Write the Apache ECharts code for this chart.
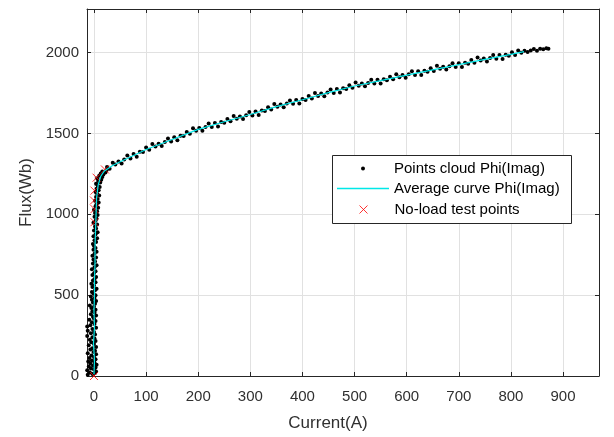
<!DOCTYPE html>
<html>
<head>
<meta charset="utf-8">
<script src="https://cdn.jsdelivr.net/npm/echarts/dist/echarts.min.js"></script>
<style>
html, body { margin: 0; padding: 0; background: #fff; }
#chart { width: 614px; height: 437px; }
</style>
</head>
<body>
<div id="chart"></div>
<script>
// point cloud Phi(Imag), [current (A), flux (Wb)] - steep part
var cloudLow = [
  [-12,8],[-3,12],[2,18],[-8,22],[4,28],[-13,35],[0,40],[-6,46],[3,52],[-10,58],[-2,64],[5,70],
  [-7,78],[1,84],[-11,90],[-4,96],[3,104],[-9,112],[0,118],[-5,126],[4,134],[-12,140],[-1,148],
  [2,156],[-7,164],[-3,172],[4,180],[-10,190],[0,198],[-5,208],[3,216],[-8,224],[1,232],[-3,240],
  [-13,248],[2,256],[-6,264],[0,272],[-12,280],[-3,290],[4,298],[-13,306],[-7,314],[1,322],[-4,332],
  [3,340],[-9,348],[0,356],[-2,366],[4,374],[-6,382],[1,392],[-3,400],[3,410],[-5,420],[0,428],
  [-8,436],[2,446],[-2,454],[4,464],[-4,472],[1,482],[-6,492],[3,500],[-1,510],[-4,520],[2,530],
  [5,540],[-3,550],[0,560],[-5,570],[3,580],[-2,590],[1,600],[4,612],[-3,624],[0,636],[3,648],
  [-4,660],[1,672],[5,684],[-2,696],[2,708],[-1,720],[4,732],[-3,744],[1,756],[5,768],[-1,780],
  [3,792],[0,804],[-2,816],[4,828],[1,840],[6,852],[-1,864],[3,876],[7,888],[0,900],[4,912],
  [2,924],[6,936],[-1,948],[3,960],[5,972],[1,984],[7,996],[2,1008],[6,1018],[0,1028],[8,1040],
  [3,1050],[5,1062],[9,1072],[2,1084],[7,1094],[4,1106],[10,1116],[6,1126],[3,1138],[9,1148],
  [5,1158],[11,1168],[7,1178],[4,1188],[12,1196],[8,1206],[14,1214],[6,1222],[16,1230],[10,1238],
  [18,1246],[13,1252],[22,1258],[16,1264],[24,1272]
];
// point cloud Phi(Imag) - saturated part
var cloudHigh = [
  [25,1292],[30,1282],[36,1318],[41,1307],[47,1326],[53,1314],[58,1339],[64,1363],[70,1345],
  [76,1372],[82,1355],[88,1386],[94,1385],[100,1412],[106,1399],[112,1435],[118,1419],[124,1436],
  [130,1422],[136,1447],[142,1469],[148,1450],[154,1476],[160,1457],[166,1486],[172,1484],
  [178,1509],[184,1497],[190,1532],[196,1517],[202,1533],[208,1517],[214,1540],[220,1561],
  [226,1539],[232,1564],[238,1543],[244,1570],[250,1566],[256,1589],[262,1575],[268,1608],
  [274,1591],[280,1605],[286,1589],[292,1612],[298,1632],[304,1611],[310,1636],[316,1614],
  [322,1642],[328,1638],[334,1662],[340,1647],[346,1681],[352,1664],[358,1678],[364,1662],
  [370,1684],[376,1704],[382,1683],[388,1707],[394,1685],[400,1712],[406,1707],[412,1731],
  [418,1716],[424,1749],[430,1731],[436,1746],[442,1730],[448,1752],[454,1772],[460,1750],
  [466,1774],[472,1752],[478,1779],[484,1774],[490,1797],[496,1782],[502,1814],[508,1795],
  [514,1808],[520,1791],[526,1812],[532,1831],[538,1808],[544,1831],[550,1808],[556,1834],
  [562,1828],[568,1850],[574,1834],[580,1866],[586,1847],[592,1861],[598,1844],[604,1865],
  [610,1884],[616,1861],[622,1884],[628,1861],[634,1887],[640,1881],[646,1902],[652,1886],
  [658,1918],[664,1899],[670,1912],[676,1895],[682,1915],[688,1934],[694,1911],[700,1934],
  [706,1911],[712,1937],[718,1931],[724,1953],[730,1937],[736,1969],[742,1950],[748,1963],
  [754,1945],[760,1966],[766,1985],[772,1961],[778,1984],[784,1960],[790,1986],[796,1980],
  [802,2001],[808,1985],[814,2012],[820,1999],[826,2011],[832,2003],[838,2013],[844,2022],
  [850,2011],[856,2024],[862,2020],[868,2027],[872,2024]
];
// average curve Phi(Imag)
var curveI = [0, 1, -1, 1, 0, 1, 1, 2, 2, 3, 4, 5, 8, 13, 20, 35, 50, 75, 100, 150, 200, 250,
  300, 350, 400, 450, 500, 550, 600, 650, 700, 750, 800, 825];
var curvePhi = [10, 100, 200, 300, 400, 500, 600, 700, 800, 900, 1000, 1100, 1180, 1235, 1268, 1300,
  1325, 1362, 1400, 1462, 1525, 1572, 1617, 1665, 1708, 1752, 1793, 1826, 1860, 1893, 1925, 1958, 1988, 2005];
// no-load test points
var noLoadI = [0, 1, 1, 0, 1, 5, 21];
var noLoadPhi = [0, 951, 1032, 1085, 1146, 1226, 1277];

var xMin = -13.4, xMax = 969;
var yMin = 0, yMax = 2269;

function zip(a, b) {
  var out = [];
  for (var i = 0; i < a.length; i++) out.push([a[i], b[i]]);
  return out;
}

var axisColor = '#262626';
var textColor = '#303030';
var gridColor = '#e1e1e1';
var cyan = '#00e8e8';
var crossPath = 'path://M0,0L10,10M0,10L10,0';
var linePath = 'path://M0,0L52,0L52,1.3L0,1.3Z';
var plain = function (v) { return String(v); };

function frameAxis(pos, min, max, n) {
  return {
    type: 'value', min: min, max: max, splitNumber: n, position: pos,
    axisLine: { show: true, onZero: false, lineStyle: { color: axisColor, width: 1 } },
    axisTick: { show: true, inside: true, length: 4, lineStyle: { color: axisColor } },
    axisLabel: { show: false },
    splitLine: { show: false }
  };
}

var myChart = echarts.init(document.getElementById('chart'));
myChart.setOption({
  animation: false,
  textStyle: { fontFamily: 'Liberation Sans, Arial, sans-serif' },
  grid: { left: 87, top: 9, width: 512, height: 372 },
  xAxis: [
    {
      type: 'value', min: xMin, max: xMax, splitNumber: 10,
      name: 'Current(A)', nameLocation: 'middle', nameGap: 39,
      nameTextStyle: { color: textColor, fontSize: 17, padding: [0, 30, 0, 0] },
      axisLine: { show: true, onZero: false, lineStyle: { color: axisColor, width: 1 } },
      axisTick: { show: true, inside: true, length: 4, lineStyle: { color: axisColor } },
      axisLabel: { color: textColor, fontSize: 15, margin: 13, showMinLabel: false, showMaxLabel: false, formatter: plain },
      splitLine: { show: true, lineStyle: { color: gridColor, width: 1 } }
    },
    frameAxis('top', xMin, xMax, 10)
  ],
  yAxis: [
    {
      type: 'value', min: yMin, max: yMax, splitNumber: 5,
      name: 'Flux(Wb)', nameLocation: 'middle', nameGap: 46,
      nameTextStyle: { color: textColor, fontSize: 17 },
      axisLine: { show: true, onZero: false, lineStyle: { color: axisColor, width: 1 } },
      axisTick: { show: true, inside: true, length: 4, lineStyle: { color: axisColor } },
      axisLabel: { color: textColor, fontSize: 15, margin: 8, showMaxLabel: false, formatter: plain },
      splitLine: { show: true, lineStyle: { color: gridColor, width: 1 } }
    },
    frameAxis('right', yMin, yMax, 5)
  ],
  graphic: [
    {
      type: 'rect', z: 10,
      shape: { x: 332.5, y: 155.5, width: 239, height: 68 },
      style: { fill: '#ffffff', stroke: axisColor, lineWidth: 1 }
    }
  ],
  legend: [
    {
      data: [{ name: 'Points cloud Phi(Imag)', icon: 'circle' }],
      left: 361, top: 161, padding: 0, z: 11,
      itemWidth: 4, itemHeight: 4,
      textStyle: { color: '#000', fontSize: 15, padding: [0, 0, 0, 24] }
    },
    {
      data: [{
        name: 'Average curve Phi(Imag)', icon: linePath,
        itemStyle: { color: cyan, borderWidth: 0 }
      }],
      left: 337, top: 181, padding: 0, z: 11,
      itemWidth: 52, itemHeight: 14,
      textStyle: { color: '#000', fontSize: 15 }
    },
    {
      data: [{
        name: 'No-load test points', icon: crossPath,
        itemStyle: { color: 'transparent', borderColor: '#ff0000', borderWidth: 1 }
      }],
      left: 359, top: 202, padding: 0, z: 11,
      itemWidth: 8, itemHeight: 8,
      textStyle: { color: '#000', fontSize: 15, padding: [0, 0, 0, 22] }
    }
  ],
  series: [
    {
      name: 'Points cloud Phi(Imag)',
      type: 'scatter',
      symbol: 'circle', symbolSize: 4,
      itemStyle: { color: '#000000', opacity: 1 },
      data: cloudLow.concat(cloudHigh)
    },
    {
      name: 'Average curve Phi(Imag)',
      type: 'line',
      symbol: 'none',
      showSymbol: false,
      color: cyan,
      lineStyle: { color: cyan, width: 1.2 },
      data: zip(curveI, curvePhi)
    },
    {
      name: 'No-load test points',
      type: 'scatter',
      symbol: crossPath, symbolSize: 8,
      itemStyle: { color: 'transparent', borderColor: '#ff0000', borderWidth: 1 },
      data: zip(noLoadI, noLoadPhi)
    }
  ]
});
</script>
</body>
</html>
